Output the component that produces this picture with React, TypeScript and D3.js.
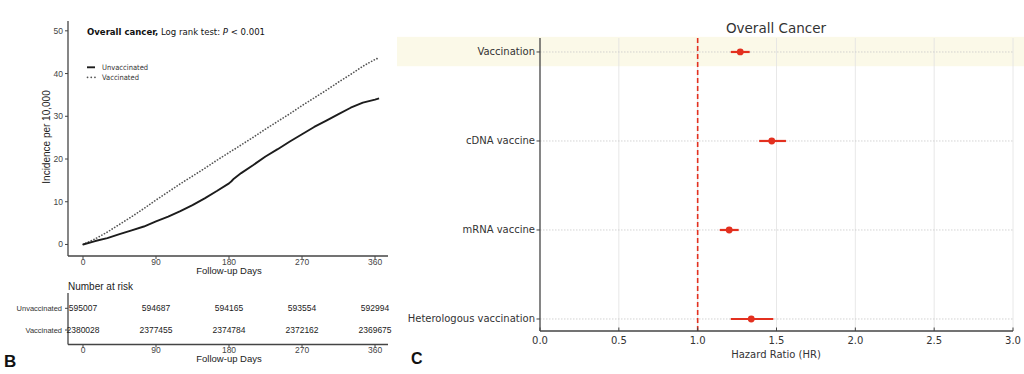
import React from "react";
import * as d3 from "d3";

// ---------- Panel B data ----------
const kmDays = [0, 15, 30, 45, 60, 75, 90, 105, 120, 135, 150, 165, 180, 183, 186, 195, 210, 225, 240, 255, 270, 285, 300, 315, 330, 345, 360, 365];
const unvaccinated = [0, 0.8, 1.5, 2.4, 3.3, 4.2, 5.4, 6.5, 7.8, 9.2, 10.8, 12.5, 14.3, 14.8, 15.4, 16.7, 18.6, 20.6, 22.3, 24.1, 25.8, 27.5, 29.0, 30.5, 32.0, 33.2, 33.9, 34.2];
const vaccinated = [0, 1.3, 2.9, 4.7, 6.5, 8.4, 10.4, 12.3, 14.2, 16.0, 17.8, 19.7, 21.5, 21.9, 22.2, 23.3, 25.1, 27.0, 28.8, 30.6, 32.5, 34.3, 36.1, 38.0, 39.8, 41.7, 43.3, 43.7];
const xTicksB = [0, 90, 180, 270, 360];
const yTicksB = [0, 10, 20, 30, 40, 50];
const riskGroups = ["Unvaccinated", "Vaccinated"];
const riskUnvaccinated = [595007, 594687, 594165, 593554, 592994];
const riskVaccinated = [2380028, 2377455, 2374784, 2372162, 2369675];

// ---------- Panel C data ----------
const forestLabels = ["Vaccination", "cDNA vaccine", "mRNA vaccine", "Heterologous vaccination"];
const forestHR = [1.27, 1.47, 1.2, 1.34];
const forestLow = [1.21, 1.39, 1.14, 1.21];
const forestHigh = [1.33, 1.56, 1.26, 1.48];
const xTicksC = [0.0, 0.5, 1.0, 1.5, 2.0, 2.5, 3.0];

const SANS = "'Liberation Sans', Arial, sans-serif";
const DV = "'DejaVu Sans', sans-serif";
const DVC = "'DejaVu Sans Condensed', 'DejaVu Sans', sans-serif";

export default function App() {
  // Panel B scales
  const xB = d3.scaleLinear().domain([-18.5, 376]).range([68, 388]);
  const yB = d3.scaleLinear().domain([-2.7, 52.3]).range([256, 21]);
  const line = d3
    .line<number>()
    .x((_, i) => xB(kmDays[i]))
    .y((d) => yB(d))
    .curve(d3.curveLinear);

  // Panel C scales
  const xC = d3.scaleLinear().domain([0, 3]).range([540, 1013]);
  const yC = d3.scaleLinear().domain([-0.157, 3.135]).range([38, 331]);

  const axisCol = "#444";
  const red = "#e3301f";

  return (
    <svg width={1024} height={374} style={{ position: "absolute", left: 0, top: 0, background: "#fff" }}>
      <rect x={0} y={0} width={1024} height={374} fill="#fff" />

      {/* ================= Panel B ================= */}
      <line x1={68} x2={68} y1={21} y2={256} stroke={axisCol} strokeWidth={1.3} />
      <line x1={68} x2={388} y1={256} y2={256} stroke={axisCol} strokeWidth={1.3} />
      {yTicksB.map((t) => (
        <g key={"yb" + t}>
          <line x1={65} x2={68} y1={yB(t)} y2={yB(t)} stroke={axisCol} strokeWidth={1} />
          <text x={63} y={yB(t)} dy="0.35em" textAnchor="end" fontFamily={SANS} fontSize={8.5} fill="#444">
            {t}
          </text>
        </g>
      ))}
      {xTicksB.map((t) => (
        <g key={"xb" + t}>
          <line x1={xB(t)} x2={xB(t)} y1={256} y2={259} stroke={axisCol} strokeWidth={1} />
          <text x={xB(t)} y={265} textAnchor="middle" fontFamily={SANS} fontSize={8.5} fill="#444">
            {t}
          </text>
        </g>
      ))}
      <text x={229} y={274} textAnchor="middle" fontFamily={SANS} fontSize={9.5} fill="#222">
        Follow-up Days
      </text>
      <text
        transform={`translate(50,137) rotate(-90)`}
        textAnchor="middle"
        fontFamily={SANS}
        fontSize={10}
        fill="#222"
      >
        Incidence per 10,000
      </text>

      {/* curves */}
      <path d={line(vaccinated) || ""} fill="none" stroke="#555" strokeWidth={1.7} strokeDasharray="0.1,2.9" strokeLinecap="round" />
      <path d={line(unvaccinated) || ""} fill="none" stroke="#1c1c1c" strokeWidth={1.9} strokeLinejoin="round" />

      {/* title */}
      <text x={87} y={34.5} fontFamily={DVC} fontSize={9.5} fill="#111">
        <tspan fontWeight="bold">Overall cancer,</tspan>
        <tspan> Log rank test: </tspan>
        <tspan fontStyle="italic">P</tspan>
        <tspan> &lt; 0.001</tspan>
      </text>

      {/* legend */}
      <line x1={87} x2={95} y1={67.3} y2={67.3} stroke="#1c1c1c" strokeWidth={1.9} />
      <line x1={87.5} x2={96} y1={77.3} y2={77.3} stroke="#555" strokeWidth={1.7} strokeDasharray="0.1,3.6" strokeLinecap="round" />
      <text x={102} y={67.3} dy="0.35em" fontFamily={DVC} fontSize={7.5} fill="#333">
        Unvaccinated
      </text>
      <text x={102} y={77.3} dy="0.35em" fontFamily={DVC} fontSize={7.5} fill="#333">
        Vaccinated
      </text>

      {/* risk table */}
      <text x={68} y={289.5} fontFamily={SANS} fontSize={10} fill="#222">
        Number at risk
      </text>
      <line x1={68} x2={68} y1={293} y2={344.5} stroke={axisCol} strokeWidth={1.3} />
      <line x1={68} x2={388} y1={344.5} y2={344.5} stroke={axisCol} strokeWidth={1.3} />
      {riskGroups.map((g, gi) => {
        const yy = gi === 0 ? 308.3 : 330;
        const vals = gi === 0 ? riskUnvaccinated : riskVaccinated;
        return (
          <g key={g}>
            <line x1={65} x2={68} y1={yy} y2={yy} stroke={axisCol} strokeWidth={1} />
            <text x={62} y={yy} dy="0.35em" textAnchor="end" fontFamily={SANS} fontSize={7.5} fill="#333">
              {g}
            </text>
            {vals.map((v, i) => (
              <text key={i} x={xB(xTicksB[i])} y={yy} dy="0.35em" textAnchor="middle" fontFamily={SANS} fontSize={8.5} fill="#222">
                {v}
              </text>
            ))}
          </g>
        );
      })}
      {xTicksB.map((t) => (
        <g key={"xr" + t}>
          <line x1={xB(t)} x2={xB(t)} y1={344.5} y2={347.5} stroke={axisCol} strokeWidth={1} />
          <text x={xB(t)} y={352.5} textAnchor="middle" fontFamily={SANS} fontSize={8.5} fill="#444">
            {t}
          </text>
        </g>
      ))}
      <text x={229} y={361.5} textAnchor="middle" fontFamily={SANS} fontSize={9.5} fill="#222">
        Follow-up Days
      </text>
      <text x={4} y={367} fontFamily={SANS} fontSize={17} fontWeight="bold" fill="#111">
        B
      </text>

      {/* ================= Panel C ================= */}
      <rect x={397} y={yC(-0.17)} width={627} height={yC(0.16) - yC(-0.17)} fill="#fbf9e8" />
      {xTicksC.slice(1).map((t) => (
        <line key={"vg" + t} x1={xC(t)} x2={xC(t)} y1={38} y2={331} stroke="#e2e2e2" strokeWidth={0.8} />
      ))}
      {forestLabels.map((l, i) => (
        <line key={"hg" + l} x1={540} x2={1013} y1={yC(i)} y2={yC(i)} stroke="#c8c8c8" strokeWidth={0.8} strokeDasharray="1.5,1.5" />
      ))}
      <line x1={xC(1)} x2={xC(1)} y1={38} y2={331} stroke={red} strokeWidth={1.6} strokeDasharray="5,3" />
      {forestLabels.map((l, i) => (
        <g key={"pt" + l}>
          <line x1={xC(forestLow[i])} x2={xC(forestHigh[i])} y1={yC(i)} y2={yC(i)} stroke={red} strokeWidth={2.2} />
          <circle cx={xC(forestHR[i])} cy={yC(i)} r={3.4} fill={red} />
        </g>
      ))}
      <line x1={540} x2={540} y1={38} y2={331} stroke="#444" strokeWidth={1.3} />
      <line x1={540} x2={1013} y1={331} y2={331} stroke="#444" strokeWidth={1.3} />
      {forestLabels.map((l, i) => (
        <g key={"yl" + l}>
          <line x1={536.5} x2={540} y1={yC(i)} y2={yC(i)} stroke="#444" strokeWidth={1} />
          <text x={535} y={yC(i)} dy="0.35em" textAnchor="end" fontFamily={DV} fontSize={10} fill="#333">
            {l}
          </text>
        </g>
      ))}
      {xTicksC.map((t) => (
        <g key={"xc" + t}>
          <line x1={xC(t)} x2={xC(t)} y1={327.5} y2={331} stroke="#444" strokeWidth={1} />
          <text x={xC(t)} y={344} textAnchor="middle" fontFamily={DV} fontSize={10} fill="#333">
            {t.toFixed(1)}
          </text>
        </g>
      ))}
      <text x={776} y={357.5} textAnchor="middle" fontFamily={DV} fontSize={10} fill="#333">
        Hazard Ratio (HR)
      </text>
      <text x={776} y={33} textAnchor="middle" fontFamily={DV} fontSize={13.5} fill="#333">
        Overall Cancer
      </text>
      <text x={411} y={364} fontFamily={SANS} fontSize={16} fontWeight="bold" fill="#111">
        C
      </text>
    </svg>
  );
}
